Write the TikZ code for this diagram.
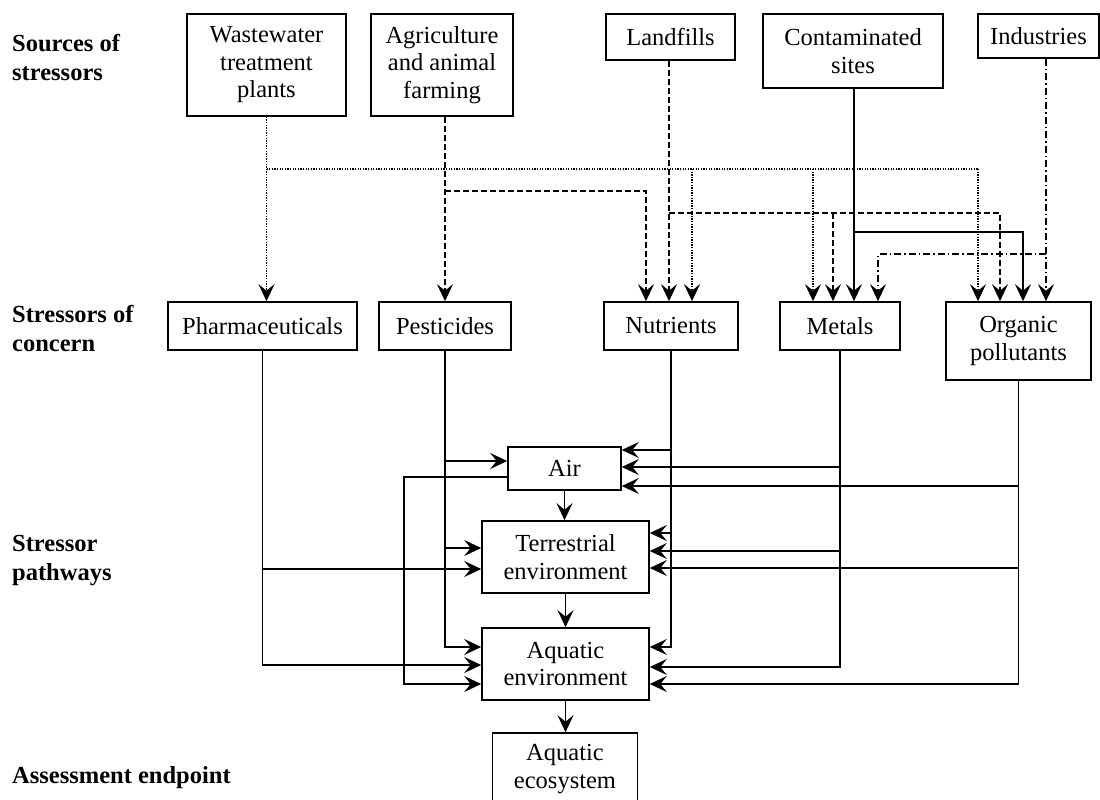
\documentclass[tikz,border=0pt]{standalone}
\usepackage{fontspec}
\setmainfont{Liberation Serif}
\usetikzlibrary{arrows.meta,calc}
\begin{document}
\begin{tikzpicture}[x=1pt,y=-1pt,
  font=\fontsize{24.5}{27.5}\selectfont,
  box/.style={draw, line width=1.6pt, inner sep=0pt, align=center},
  conn/.style={line width=1.7pt},
  arr/.style={conn,-{Stealth[length=17pt,width=16pt,inset=6.5pt]}},
  dotl/.style={dash pattern=on 1.3pt off 1.3pt},
  dashl/.style={dash pattern=on 6pt off 3pt},
  ddl/.style={dash pattern=on 7pt off 3pt on 1.5pt off 3pt},
  lab/.style={font=\fontsize{24.5}{29}\selectfont\bfseries, align=left, inner sep=0pt}]
\clip (0,0) rectangle (1100,800);
\fill[white] (0,0) rectangle (1100,800);

% sources
\node[box, minimum width=159pt, minimum height=102pt] (ww) at (266.5,65) {Wastewater\\treatment\\plants};
\node[box, minimum width=142pt, minimum height=102pt] (ag) at (442,65) {Agriculture\\and animal\\farming};
\node[box, minimum width=129pt, minimum height=46pt] (lf) at (670.5,37) {Landfills};
\node[box, minimum width=180pt, minimum height=74pt] (cs) at (853,51) {Contaminated\\sites};
\node[box, minimum width=121pt, minimum height=44pt] (ind) at (1038.5,36) {Industries};

% stressors
\node[box, minimum width=189pt, minimum height=48pt] (ph) at (262.5,326) {Pharmaceuticals};
\node[box, minimum width=132pt, minimum height=48pt] (pe) at (445,326) {Pesticides};
\node[box, minimum width=134pt, minimum height=48pt] (nu) at (671,326) {Nutrients};
\node[box, minimum width=120pt, minimum height=48pt] (me) at (840,326) {Metals};
\node[box, minimum width=145pt, minimum height=78pt] (op) at (1018.5,341) {Organic\\pollutants};

% pathways
\node[box, minimum width=113pt, minimum height=43pt] (air) at (564.5,468.5) {Air};
\node[box, minimum width=167pt, minimum height=72pt] (ter) at (565.5,557) {Terrestrial\\environment};
\node[box, minimum width=167pt, minimum height=72pt] (aq) at (565.5,664) {Aquatic\\environment};
\node[box, minimum width=145pt, minimum height=72pt] (eco) at (565,769) {Aquatic\\ecosystem};

% left labels
\node[lab, anchor=west] (l1) at (12,57) {Sources of\\stressors};
\node[lab, anchor=west] (l2) at (12,328) {Stressors of\\concern};
\node[lab, anchor=west] (l3) at (12,561) {Stressor\\pathways};
\node[lab, anchor=base west] (l4) at (12,783) {Assessment endpoint};

% arrow end points on stressor boxes
\coordinate (nu1) at ([xshift=-25pt]nu.north);
\coordinate (nu2) at ([xshift=-2pt]nu.north);
\coordinate (nu3) at ([xshift=21pt]nu.north);
\coordinate (me1) at ([xshift=-27pt]me.north);
\coordinate (me2) at ([xshift=-7pt]me.north);
\coordinate (me3) at ([xshift=14pt]me.north);
\coordinate (me4) at ([xshift=38pt]me.north);
\coordinate (op1) at ([xshift=-40.5pt]op.north);
\coordinate (op2) at ([xshift=-18.5pt]op.north);
\coordinate (op3) at ([xshift=4.5pt]op.north);
\coordinate (op4) at ([xshift=27.5pt]op.north);
% rails
\coordinate (rW) at (0,169);
\coordinate (rA) at (0,191);
\coordinate (rL) at (0,213);
\coordinate (rC) at (0,232);
\coordinate (rI) at (0,254);

% wastewater (dotted)
\draw[arr,dotl] (ww.south) -- (ww.south |- ph.north);
\draw[conn,dotl] (ww.south |- rW) -- (op1 |- rW);
\draw[arr,dotl] (nu3 |- rW) -- (nu3);
\draw[arr,dotl] (me1 |- rW) -- (me1);
\draw[arr,dotl] (op1 |- rW) -- (op1);
% agriculture (dashed)
\draw[arr,dashl] (pe.north |- ag.south) -- (pe.north);
\draw[arr,dashl] (pe.north |- rA) -| (nu1);
% landfills (dashed)
\draw[arr,dashl] (nu2 |- lf.south) -- (nu2);
\draw[arr,dashl] (nu2 |- rL) -| (op2);
\draw[arr,dashl] (me2 |- rL) -- (me2);
% contaminated sites (solid)
\draw[arr] (me3 |- cs.south) -- (me3);
\draw[arr] (me3 |- rC) -| (op3);
% industries (dash-dot)
\draw[arr,ddl] (op4 |- ind.south) -- (op4);
\draw[arr,ddl] (op4 |- rI) -| (me4);

% entry points of pathway boxes
\coordinate (airW) at ([yshift=7.5pt]air.west);
\coordinate (airO) at ([yshift=-8.5pt]air.west);
\coordinate (terW1) at ([yshift=9pt]ter.west);
\coordinate (terW2) at ([yshift=-12pt]ter.west);
\coordinate (aqW1) at ([yshift=17pt]aq.west);
\coordinate (aqW2) at ([yshift=-1pt]aq.west);
\coordinate (aqW3) at ([yshift=-20pt]aq.west);
\coordinate (airE1) at ([yshift=18.5pt]air.east);
\coordinate (airE2) at ([yshift=1.5pt]air.east);
\coordinate (airE3) at ([yshift=-17.5pt]air.east);
\coordinate (terE1) at ([yshift=24pt]ter.east);
\coordinate (terE2) at ([yshift=6pt]ter.east);
\coordinate (terE3) at ([yshift=-11pt]ter.east);
\coordinate (aqE1) at ([yshift=17pt]aq.east);
\coordinate (aqE2) at ([yshift=-3pt]aq.east);
\coordinate (aqE3) at ([yshift=-20pt]aq.east);
\coordinate (xa) at (404,0);

% left feeds
\draw[arr] (ph.south) |- (aqW2);
\draw[arr] (ph.south |- terW2) -- (terW2);
\draw[arr] (pe.south) |- (aqW1);
\draw[arr] (pe.south |- airW) -- (airW);
\draw[arr] (pe.south |- terW1) -- (terW1);
\draw[arr] (airO) -| (xa |- aqW3) -- (aqW3);
% right feeds
\draw[arr] (nu.south) |- (aqE1);
\draw[arr] (nu.south |- airE1) -- (airE1);
\draw[arr] (nu.south |- terE1) -- (terE1);
\draw[arr] (me.south) |- (aqE2);
\draw[arr] (me.south |- airE2) -- (airE2);
\draw[arr] (me.south |- terE2) -- (terE2);
\draw[arr] (op.south) |- (aqE3);
\draw[arr] (op.south |- airE3) -- (airE3);
\draw[arr] (op.south |- terE3) -- (terE3);
% central chain
\draw[arr] (air.south) -- (air.south |- ter.north);
\draw[arr] (ter.south) -- (aq.north);
\draw[arr] (aq.south) -- (aq.south |- eco.north);
\end{tikzpicture}
\end{document}
